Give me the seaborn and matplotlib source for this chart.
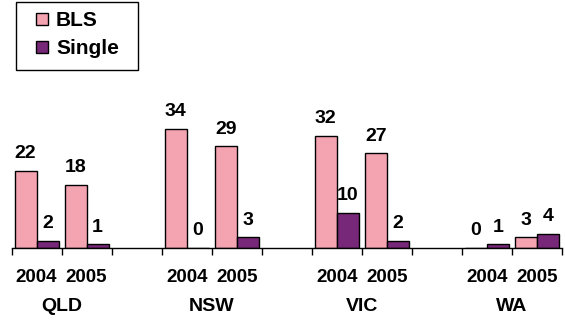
import numpy as np
import pandas as pd
import matplotlib
matplotlib.use("Agg")
import matplotlib.pyplot as plt
import seaborn as sns
from matplotlib.lines import Line2D
from matplotlib.patches import Rectangle

states = ["QLD", "NSW", "VIC", "WA"]
years = ["2004", "2005"]
series = ["BLS", "Single"]
bls = [22, 18, 34, 29, 32, 27, 0, 3]
single = [2, 1, 0, 3, 10, 2, 1, 4]
colors = ["#F4A3B1", "#782878"]

# long-form table: each state gets two year slots followed by an empty slot
rows = []
for i, st in enumerate(states):
    for j, yr in enumerate(years):
        k = 2 * i + j
        pos = 3 * i + j
        rows.append(dict(pos=pos, state=st, year=yr, series="BLS", value=bls[k]))
        rows.append(dict(pos=pos, state=st, year=yr, series="Single", value=single[k]))
df = pd.DataFrame(rows)

sns.set_style("white")
plt.rcParams["font.family"] = ["Liberation Sans", "DejaVu Sans"]
plt.rcParams["font.weight"] = "bold"
plt.rcParams["text.color"] = "black"
plt.rcParams["xtick.color"] = "black"

fig = plt.figure(figsize=(5.65, 3.2), dpi=100)
ax = fig.add_axes([11.5 / 565, 72.5 / 320, 550.5 / 565, 140 / 320])

sns.barplot(data=df, x="pos", y="value", hue="series", hue_order=series,
            palette=colors, saturation=1, native_scale=True, width=0.88,
            edgecolor="black", linewidth=1, errorbar=None, legend=False, ax=ax)

ax.set_xlim(-0.5, 10.5)
ax.set_ylim(0, 40)
for s in ["left", "top", "right"]:
    ax.spines[s].set_visible(False)
ax.spines["bottom"].set_color("black")
ax.spines["bottom"].set_linewidth(1)
ax.set_yticks([])
ax.set_xlabel("")
ax.set_ylabel("")
ax.set_xticks(np.arange(-0.5, 11, 1))
ax.set_xticklabels([])
ax.tick_params(axis="x", length=5, width=1, direction="out", color="black", bottom=True)

# value labels on every bar
for cont in ax.containers:
    ax.bar_label(cont, fmt="{:.0f}", padding=6, fontsize=14, fontweight="bold",
                 color="black")

# year and state labels under the axis
for i, st in enumerate(states):
    for j, yr in enumerate(years):
        ax.annotate(yr, xy=(3 * i + j, 0), xycoords=("data", "axes fraction"),
                    xytext=(0, -21.5), textcoords="offset points",
                    ha="center", va="center", fontsize=13.5, fontweight="bold",
                    color="black")
    ax.annotate(st, xy=(3 * i + 0.5, 0), xycoords=("data", "axes fraction"),
                xytext=(0, -42.5), textcoords="offset points",
                ha="center", va="center", fontsize=14, fontweight="bold",
                color="black")

# legend with a boxed frame in the upper-left corner
handles = [Line2D([], [], linestyle="", marker="s", markersize=8,
                  markerfacecolor=c, markeredgecolor="black", markeredgewidth=1)
           for c in colors]
fig.legend(handles, series, loc="upper left",
           bbox_to_anchor=(32 / 565, 1 - 11 / 320), frameon=False,
           borderpad=0, borderaxespad=0, handlelength=1.0, handletextpad=0.15,
           labelspacing=0.45, prop={"weight": "bold", "size": 15},
           labelcolor="black")
fig.add_artist(Rectangle((16 / 565, 1 - 70 / 320), 122 / 565, 68 / 320,
                         transform=fig.transFigure, fill=False,
                         edgecolor="black", linewidth=1))

fig.savefig("out.png", dpi=100)
